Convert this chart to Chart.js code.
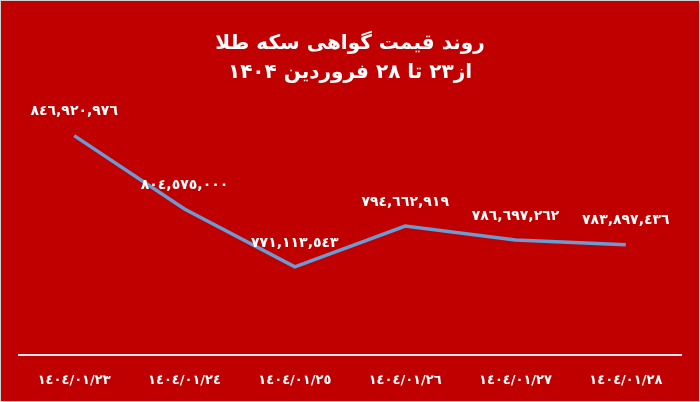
<!DOCTYPE html>
<html>
<head>
<meta charset="utf-8">
<script src="https://cdn.jsdelivr.net/npm/chart.js@4"></script>
<style>
  html, body { margin: 0; padding: 0; background: #fff; }
  #wrap { width: 700px; height: 402px; box-sizing: border-box; border: 1px solid #cfcfcf; }
</style>
</head>
<body>
<div id="wrap"><canvas id="coinChart"></canvas></div>
<script>
// chart data
const titleLines = ["روند قیمت گواهی سکه طلا", "از۲۳ تا ۲۸ فروردین ۱۴۰۴"];
const dates = ["١٤٠٤/٠١/٢٣", "١٤٠٤/٠١/٢٤", "١٤٠٤/٠١/٢٥", "١٤٠٤/٠١/٢٦", "١٤٠٤/٠١/٢٧", "١٤٠٤/٠١/٢٨"];
const prices = [846920976, 804575000, 771113543, 794662919, 786697262, 783897436];

const FONT = "'DejaVu Sans', sans-serif";

// 846,920,976 -> ٨٤٦,٩٢٠,٩٧٦
function arabicDigits(n) {
  return n.toLocaleString("en-US").replace(/[0-9]/g, d => String.fromCharCode(0x0660 + Number(d)));
}

// red background behind everything
const bgPlugin = {
  id: "bg",
  beforeDraw(chart) {
    const c = chart.ctx;
    c.save();
    c.fillStyle = "#C00000";
    c.fillRect(0, 0, chart.width, chart.height);
    c.restore();
  }
};

// value labels above each point
const valueLabels = {
  id: "valueLabels",
  afterDatasetsDraw(chart) {
    const c = chart.ctx;
    const meta = chart.getDatasetMeta(0);
    c.save();
    c.fillStyle = "#ffffff";
    c.font = "bold 14px " + FONT;
    c.textAlign = "center";
    c.textBaseline = "middle";
    meta.data.forEach((pt, i) => {
      c.fillText(arabicDigits(prices[i]), pt.x, pt.y - 24);
    });
    c.restore();
  }
};

new Chart(document.getElementById("coinChart").getContext("2d"), {
  type: "line",
  data: {
    labels: dates,
    datasets: [{
      data: prices,
      borderColor: "#6B9BD3",
      borderWidth: 3.5,
      pointRadius: 0,
      tension: 0,
      fill: false
    }]
  },
  options: {
    responsive: true,
    maintainAspectRatio: false,
    animation: false,
    layout: { padding: { left: 18, right: 18, top: 0, bottom: -4 } },
    plugins: {
      legend: { display: false },
      tooltip: { enabled: false },
      title: {
        display: true,
        text: titleLines,
        color: "#ffffff",
        font: { family: FONT, size: 20, weight: "bold", lineHeight: 1.45 },
        padding: { top: 28, bottom: 26 }
      }
    },
    scales: {
      x: {
        offset: true,
        grid: { display: false, drawTicks: false },
        border: { display: true, color: "#E6E6E6", width: 2 },
        ticks: { color: "#ffffff", padding: 17, font: { family: FONT, size: 13, weight: "bold" } }
      },
      y: {
        display: false,
        min: 720000000,
        max: 860000000
      }
    }
  },
  plugins: [bgPlugin, valueLabels]
});
</script>
</body>
</html>
